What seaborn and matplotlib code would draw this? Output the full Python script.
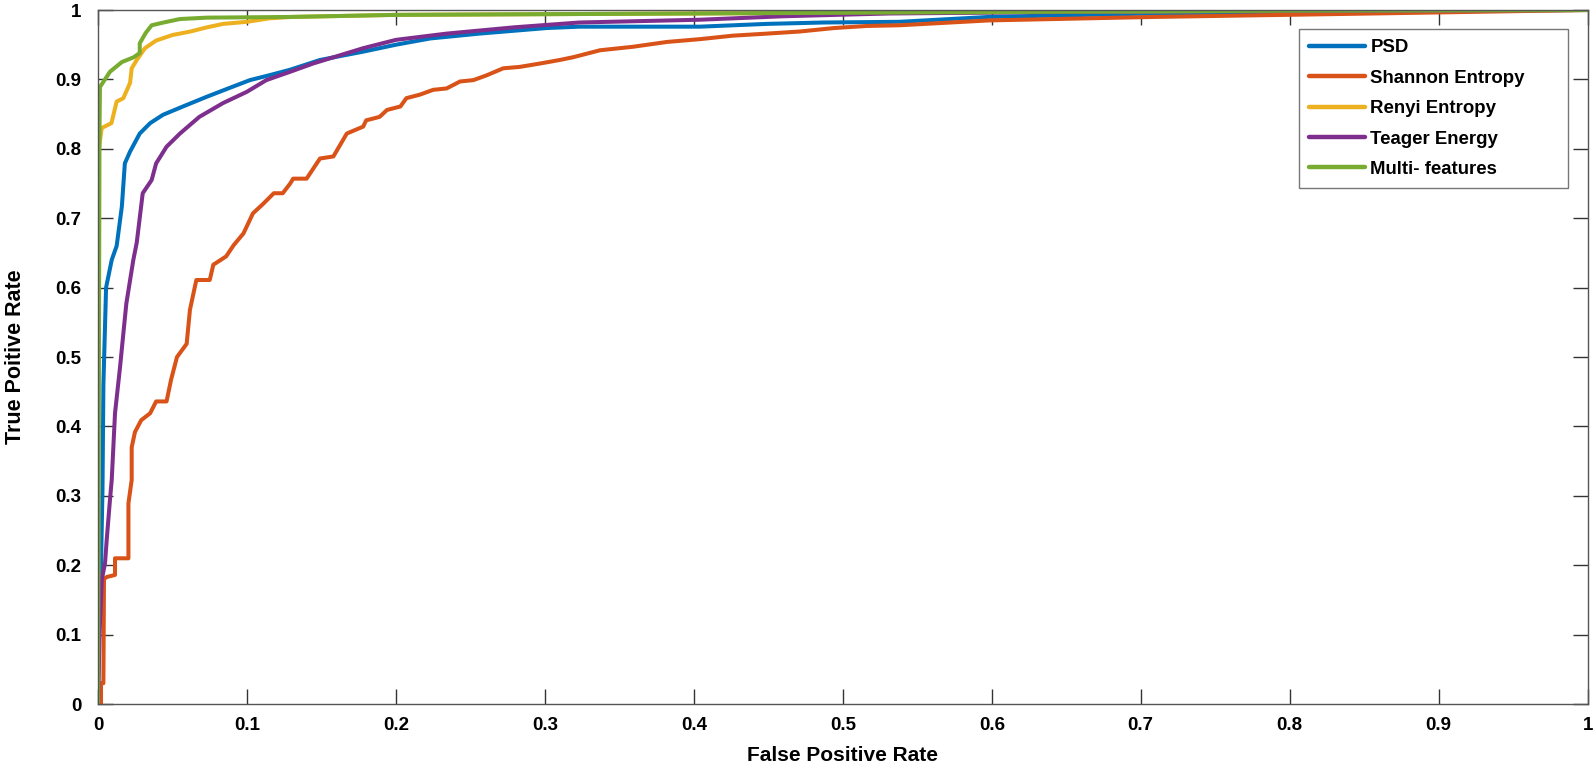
import pandas as pd
import matplotlib
matplotlib.use('Agg')
import matplotlib.pyplot as plt
import seaborn as sns

# ROC points (fpr, tpr)
psd_fpr = [0, 0.001, 0.002, 0.003, 0.0036, 0.0054, 0.0092, 0.0125, 0.016, 0.018, 0.0215, 0.028, 0.035,
           0.0436, 0.057, 0.073, 0.0886, 0.102, 0.115, 0.129, 0.149, 0.178, 0.200, 0.223, 0.256, 0.301,
           0.323, 0.404, 0.449, 0.487, 0.538, 0.598, 0.708, 0.8, 0.9, 1.0]
psd_tpr = [0, 0.15, 0.20, 0.31, 0.46, 0.60, 0.64, 0.66, 0.717, 0.779, 0.796, 0.822, 0.837,
           0.849, 0.861, 0.875, 0.888, 0.899, 0.906, 0.914, 0.928, 0.940, 0.950, 0.959, 0.966, 0.974,
           0.976, 0.976, 0.980, 0.982, 0.983, 0.990, 0.995, 0.997, 0.999, 1.0]

shannon_fpr = [0, 0.002, 0.002, 0.0036, 0.004, 0.0058, 0.0114, 0.0114, 0.0204, 0.0204, 0.0226, 0.0226,
               0.0248, 0.029, 0.035, 0.039, 0.046, 0.049, 0.053, 0.0595, 0.0617, 0.066, 0.075, 0.0774,
               0.086, 0.091, 0.0976, 0.104, 0.111, 0.118, 0.124, 0.129, 0.131, 0.140, 0.149, 0.158,
               0.167, 0.178, 0.180, 0.189, 0.194, 0.203, 0.207, 0.216, 0.225, 0.234, 0.243, 0.252,
               0.261, 0.272, 0.283, 0.297, 0.310, 0.319, 0.337, 0.359, 0.382, 0.404, 0.426, 0.449,
               0.471, 0.494, 0.516, 0.538, 0.598, 0.708, 0.797, 0.885, 1.0]
shannon_tpr = [0, 0, 0.03, 0.03, 0.18, 0.183, 0.186, 0.21, 0.21, 0.289, 0.323, 0.37,
               0.392, 0.409, 0.419, 0.436, 0.436, 0.467, 0.50, 0.519, 0.568, 0.611, 0.611, 0.633,
               0.645, 0.661, 0.678, 0.707, 0.721, 0.736, 0.736, 0.750, 0.757, 0.757, 0.786, 0.789,
               0.822, 0.832, 0.841, 0.846, 0.856, 0.861, 0.873, 0.878, 0.885, 0.887, 0.897, 0.899,
               0.906, 0.916, 0.918, 0.923, 0.928, 0.932, 0.942, 0.947, 0.954, 0.958, 0.963, 0.966,
               0.969, 0.974, 0.977, 0.978, 0.985, 0.990, 0.993, 0.996, 1.0]

renyi_fpr = [0, 0.0005, 0.0025, 0.009, 0.0125, 0.017, 0.0215, 0.0226, 0.026, 0.0315, 0.039, 0.050,
             0.062, 0.073, 0.084, 0.100, 0.115, 0.13, 0.2, 0.4, 0.6, 0.8, 1.0]
renyi_tpr = [0, 0.80, 0.83, 0.837, 0.868, 0.873, 0.895, 0.916, 0.928, 0.945, 0.956, 0.964,
             0.969, 0.975, 0.980, 0.983, 0.988, 0.990, 0.993, 0.995, 0.997, 0.999, 1.0]

teager_fpr = [0, 0.001, 0.0025, 0.0047, 0.0058, 0.008, 0.0092, 0.0114, 0.0148, 0.017, 0.019, 0.0237,
              0.026, 0.030, 0.036, 0.039, 0.046, 0.055, 0.068, 0.084, 0.0998, 0.113, 0.129, 0.1445,
              0.178, 0.20, 0.234, 0.279, 0.323, 0.404, 0.46, 0.531, 0.7, 0.85, 1.0]
teager_tpr = [0, 0.10, 0.179, 0.203, 0.236, 0.294, 0.323, 0.419, 0.486, 0.534, 0.577, 0.640,
              0.665, 0.736, 0.755, 0.779, 0.803, 0.822, 0.846, 0.866, 0.882, 0.899, 0.911, 0.923,
              0.945, 0.957, 0.966, 0.975, 0.982, 0.986, 0.991, 0.995, 0.998, 0.999, 1.0]

multi_fpr = [0, 0.001, 0.0013, 0.008, 0.016, 0.024, 0.028, 0.028, 0.032, 0.036, 0.044, 0.055, 0.073,
             0.129, 0.2, 0.4, 0.6, 0.8, 1.0]
multi_tpr = [0, 0.83, 0.889, 0.911, 0.925, 0.932, 0.938, 0.952, 0.967, 0.978, 0.982, 0.987, 0.989,
             0.990, 0.993, 0.995, 0.997, 0.999, 1.0]

labels = ['PSD', 'Shannon Entropy', 'Renyi Entropy', 'Teager Energy', 'Multi- features']
colors = ['#0072BD', '#D95319', '#EDB120', '#7E2F8E', '#77AC30']
ticks = [0, 0.1, 0.2, 0.3, 0.4, 0.5, 0.6, 0.7, 0.8, 0.9, 1]
tick_labels = ['0', '0.1', '0.2', '0.3', '0.4', '0.5', '0.6', '0.7', '0.8', '0.9', '1']

series = [(psd_fpr, psd_tpr), (shannon_fpr, shannon_tpr), (renyi_fpr, renyi_tpr),
          (teager_fpr, teager_tpr), (multi_fpr, multi_tpr)]
frames = []
for name, (fx, ty) in zip(labels, series):
    frames.append(pd.DataFrame({'fpr': fx, 'tpr': ty, 'feature': name}))
df = pd.concat(frames, ignore_index=True)

sns.set_style('white')
plt.rcParams['font.family'] = ['Liberation Sans', 'DejaVu Sans']
plt.rcParams['font.weight'] = 'bold'
plt.rcParams['text.color'] = 'black'
plt.rcParams['axes.labelcolor'] = 'black'
plt.rcParams['xtick.color'] = 'black'
plt.rcParams['ytick.color'] = 'black'

fig = plt.figure(figsize=(15.94, 7.82), dpi=100)
ax = fig.add_axes([0.0615, 0.0997, 0.9345, 0.8875])

sns.lineplot(data=df, x='fpr', y='tpr', hue='feature', hue_order=labels, palette=colors,
             sort=False, estimator=None, linewidth=2.9, ax=ax)

ax.set_xlim(0, 1)
ax.set_ylim(0, 1)
ax.set_xticks(ticks)
ax.set_xticklabels(tick_labels)
ax.set_yticks(ticks)
ax.set_yticklabels(tick_labels)
ax.tick_params(direction='in', length=11, width=1, color='#333333', labelsize=13.5,
               labelcolor='black', top=True, right=True, bottom=True, left=True)
ax.tick_params(axis='x', pad=9)
ax.tick_params(axis='y', pad=12)
for lab in ax.get_xticklabels() + ax.get_yticklabels():
    lab.set_fontweight('bold')
for sp in ax.spines.values():
    sp.set_visible(True)
    sp.set_color('#555555')
    sp.set_linewidth(1)

ax.set_xlabel('False Positive Rate', fontsize=15, fontweight='bold', labelpad=9)
ax.set_ylabel('True Poitive Rate', fontsize=15.5, fontweight='bold', labelpad=21)

leg = ax.legend(loc='upper left', bbox_to_anchor=(0.806, 0.5, 0.1805, 0.4726), mode='expand',
                borderaxespad=0, fontsize=13.4, frameon=True, fancybox=False, handlelength=3.0,
                labelspacing=0.72, borderpad=0.55, handletextpad=0.3)
leg.get_frame().set_edgecolor('#555555')
leg.get_frame().set_linewidth(1)
for t in leg.get_texts():
    t.set_fontweight('bold')
for h in leg.get_lines():
    h.set_linewidth(3.2)

fig.savefig('out.png', dpi=100)
